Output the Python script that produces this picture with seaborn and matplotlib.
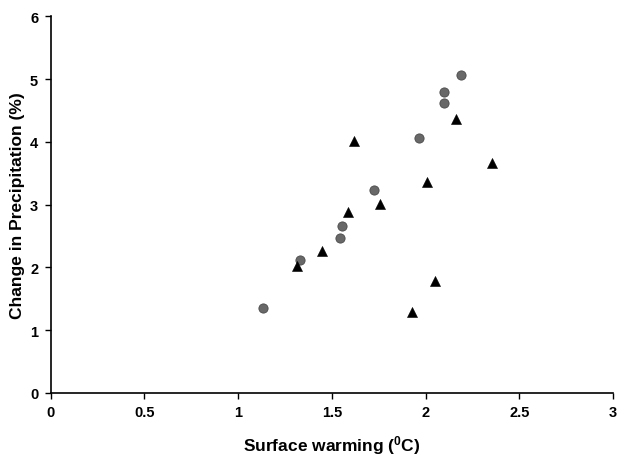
import numpy as np
import pandas as pd
import matplotlib
matplotlib.use("Agg")
import matplotlib.pyplot as plt
import seaborn as sns

# Data
circle_x = [2.19, 2.10, 2.10, 1.967, 1.725, 1.556, 1.545, 1.332, 1.131]
circle_y = [5.06, 4.80, 4.62, 4.06, 3.23, 2.66, 2.47, 2.12, 1.36]
tri_x = [2.161, 1.617, 2.353, 2.01, 1.757, 1.586, 1.446, 1.314, 2.049, 1.928]
tri_y = [4.37, 4.02, 3.66, 3.36, 3.01, 2.88, 2.26, 2.02, 1.79, 1.29]

x_ticks = [0, 0.5, 1, 1.5, 2, 2.5, 3]
x_tick_labels = ["0", "0.5", "1", "1.5", "2", "2.5", "3"]
y_ticks = [0, 1, 2, 3, 4, 5, 6]

sns.set_theme(style="white")
plt.rcParams["font.family"] = ["Liberation Sans", "DejaVu Sans"]
plt.rcParams["font.weight"] = "bold"
plt.rcParams["text.color"] = "black"
plt.rcParams["axes.labelcolor"] = "black"
plt.rcParams["xtick.color"] = "black"
plt.rcParams["ytick.color"] = "black"
plt.rcParams["mathtext.fontset"] = "custom"
plt.rcParams["mathtext.rm"] = "Liberation Sans:bold"
plt.rcParams["mathtext.it"] = "Liberation Sans:bold"
plt.rcParams["mathtext.bf"] = "Liberation Sans:bold"

df = pd.DataFrame({
    "x": circle_x + tri_x,
    "y": circle_y + tri_y,
    "group": ["circle"] * len(circle_x) + ["triangle"] * len(tri_x),
})

fig = plt.figure(figsize=(6.2, 4.6), dpi=100)
ax = fig.add_axes([0.0818, 0.1435, 0.9887 - 0.0818, 0.9624 - 0.1435])

sns.scatterplot(data=df[df.group == "circle"], x="x", y="y", marker="o", s=44,
                color="#686868", edgecolor="#4a4a4a", linewidth=0.6, ax=ax, legend=False)
sns.scatterplot(data=df[df.group == "triangle"], x="x", y="y", marker="^", s=52,
                color="black", edgecolor="black", linewidth=0.4, ax=ax, legend=False)

ax.set_xlim(0, 3)
ax.set_ylim(0, 6)
ax.set_xticks(x_ticks)
ax.set_xticklabels(x_tick_labels)
ax.set_yticks(y_ticks)
for s in ["top", "right"]:
    ax.spines[s].set_visible(False)
for s in ["left", "bottom"]:
    ax.spines[s].set_color("black")
    ax.spines[s].set_linewidth(1.2)
ax.tick_params(axis="both", direction="out", length=4, width=1.0, color="black",
               labelcolor="black", labelsize=10.5, pad=5, bottom=True, left=True)
for lab in ax.get_xticklabels() + ax.get_yticklabels():
    lab.set_fontweight("bold")
ax.set_xlabel(r"Surface warming ($^{0}$C)", fontsize=12.5, fontweight="bold",
              labelpad=10, color="black")
ax.set_ylabel("Change in Precipitation (%)", fontsize=12.5, fontweight="bold",
              labelpad=3.5, color="black")
ax.grid(False)

fig.savefig("out.png", dpi=100, facecolor="white")
